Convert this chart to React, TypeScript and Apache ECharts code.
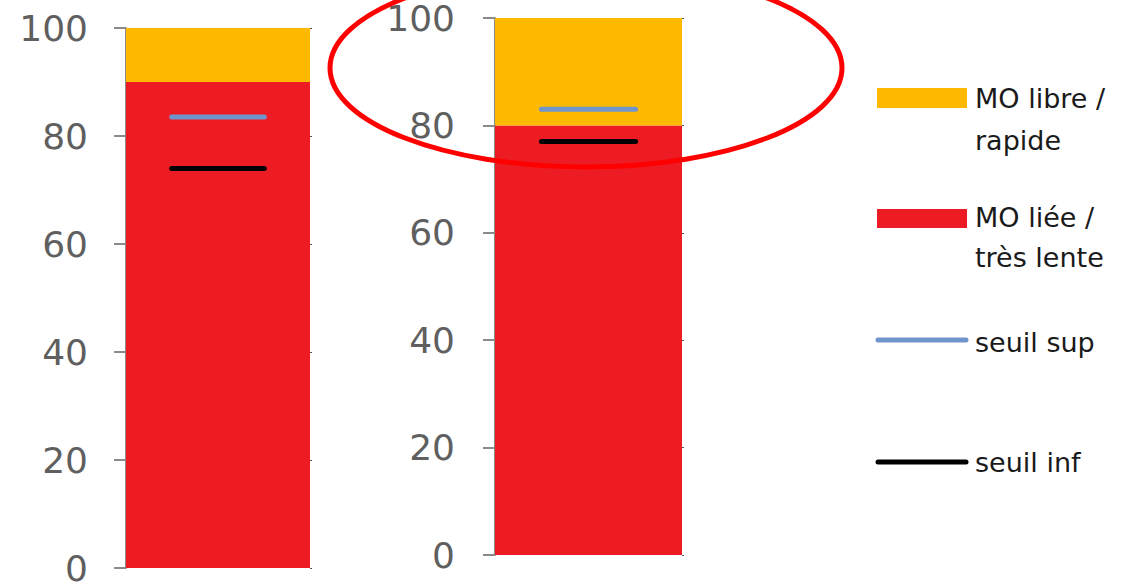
import React, { useEffect, useRef } from "react";
import * as echarts from "echarts";

// Two soil samples, each shown as a 100 % stacked bar
const sites = ["Parcelle 1", "Parcelle 2"];
const moLiee = [90, 80]; // MO liée / très lente
const moLibre = [10, 20]; // MO libre / rapide
const seuilSup = [83.5, 83];
const seuilInf = [74, 77];

const yMin = 0;
const yMax = 100;
const yStep = 20;

const NAMES = {
  libre: "MO libre / rapide",
  liee: "MO liée / très lente",
  sup: "seuil sup",
  inf: "seuil inf",
};
const LEGEND_TEXT = {
  libre: "MO libre /\nrapide",
  liee: "MO liée /\ntrès lente",
  sup: "seuil sup",
  inf: "seuil inf",
};
const COLORS = {
  libre: "#FFB900",
  liee: "#ED1C24",
  sup: "#7094CC",
  inf: "#000000",
  axis: "#8a8a8a",
  label: "#5f5f5f",
  circle: "#FF0000",
};

// one grid per sample
const grids = [
  { left: 126, top: 28, width: 184, height: 541, labelMargin: 38 },
  { left: 495, top: 16, width: 187, height: 539, labelMargin: 40 },
];

function thresholdSeries(i: number, name: string, value: number, color: string) {
  return {
    type: "custom",
    name,
    xAxisIndex: i,
    yAxisIndex: i * 2,
    z: 5,
    data: [[0, value]],
    renderItem: (_params: any, api: any) => {
      const p = api.coord([api.value(0), api.value(1)]);
      const w = api.size([1, 0])[0];
      const half = w * 0.265 - 2.5;
      return {
        type: "line",
        shape: { x1: p[0] - half, y1: p[1], x2: p[0] + half, y2: p[1] },
        style: { stroke: color, lineWidth: 5, lineCap: "round" },
      };
    },
  };
}

function buildOption() {
  const yAxis: any[] = [];
  const series: any[] = [];
  grids.forEach((g, i) => {
    yAxis.push({
      type: "value",
      gridIndex: i,
      position: "left",
      min: yMin,
      max: yMax,
      interval: yStep,
      axisLine: { show: true, lineStyle: { color: COLORS.axis, width: 2 } },
      axisTick: { show: true, length: 12, lineStyle: { color: COLORS.axis, width: 2 } },
      axisLabel: {
        margin: g.labelMargin,
        fontSize: 36,
        fontFamily: "DejaVu Sans",
        color: COLORS.label,
      },
      splitLine: { show: false },
    });
    yAxis.push({
      type: "value",
      gridIndex: i,
      position: "right",
      min: yMin,
      max: yMax,
      interval: yStep,
      axisLine: { show: false },
      axisTick: { show: true, length: 2, lineStyle: { color: "#555555", width: 1 } },
      axisLabel: { show: false },
      splitLine: { show: false },
    });
    series.push({
      type: "bar",
      name: NAMES.liee,
      xAxisIndex: i,
      yAxisIndex: i * 2,
      stack: "mo" + i,
      barWidth: "100%",
      data: [moLiee[i]],
      itemStyle: { color: COLORS.liee },
    });
    series.push({
      type: "bar",
      name: NAMES.libre,
      xAxisIndex: i,
      yAxisIndex: i * 2,
      stack: "mo" + i,
      barWidth: "100%",
      data: [moLibre[i]],
      itemStyle: { color: COLORS.libre },
    });
    series.push(thresholdSeries(i, NAMES.sup, seuilSup[i], COLORS.sup));
    series.push(thresholdSeries(i, NAMES.inf, seuilInf[i], COLORS.inf));
  });

  const legendFont = { fontSize: 27, fontFamily: "DejaVu Sans", fill: "#1a1a1a" };
  const textX = 975;

  const graphic: any[] = [
    // legend swatches
    { type: "rect", shape: { x: 877, y: 88, width: 90, height: 20 }, style: { fill: COLORS.libre } },
    { type: "rect", shape: { x: 877, y: 209, width: 90, height: 19 }, style: { fill: COLORS.liee } },
    {
      type: "line",
      shape: { x1: 878, y1: 340, x2: 966, y2: 340 },
      style: { stroke: COLORS.sup, lineWidth: 5, lineCap: "round" },
    },
    {
      type: "line",
      shape: { x1: 878, y1: 462, x2: 966, y2: 462 },
      style: { stroke: COLORS.inf, lineWidth: 5, lineCap: "round" },
    },
    // legend labels
    {
      type: "text",
      x: textX,
      y: 77,
      style: { ...legendFont, text: LEGEND_TEXT.libre, lineHeight: 42, verticalAlign: "top" },
    },
    {
      type: "text",
      x: textX,
      y: 197,
      style: { ...legendFont, text: LEGEND_TEXT.liee, lineHeight: 40, verticalAlign: "top" },
    },
    {
      type: "text",
      x: textX,
      y: 342,
      style: { ...legendFont, text: LEGEND_TEXT.sup, verticalAlign: "middle" },
    },
    {
      type: "text",
      x: textX,
      y: 462,
      style: { ...legendFont, text: LEGEND_TEXT.inf, verticalAlign: "middle" },
    },
    // highlight around the top of the second bar
    {
      type: "ellipse",
      z: 100,
      shape: { cx: 586, cy: 68, rx: 256, ry: 99 },
      style: { fill: "none", stroke: COLORS.circle, lineWidth: 5 },
    },
  ];

  return {
    animation: false,
    backgroundColor: "#ffffff",
    grid: grids.map((g) => ({ left: g.left, top: g.top, width: g.width, height: g.height })),
    xAxis: grids.map((_g, i) => ({
      type: "category",
      gridIndex: i,
      data: [sites[i]],
      show: false,
    })),
    yAxis,
    series,
    graphic,
  };
}

export default function App() {
  const ref = useRef<HTMLDivElement>(null);
  useEffect(() => {
    if (!ref.current) return;
    const chart = echarts.init(ref.current, undefined, { renderer: "svg" });
    chart.setOption(buildOption() as any);
    return () => chart.dispose();
  }, []);
  return (
    <div
      ref={ref}
      style={{ position: "fixed", left: 0, top: 0, width: 1144, height: 586, background: "#fff" }}
    />
  );
}
